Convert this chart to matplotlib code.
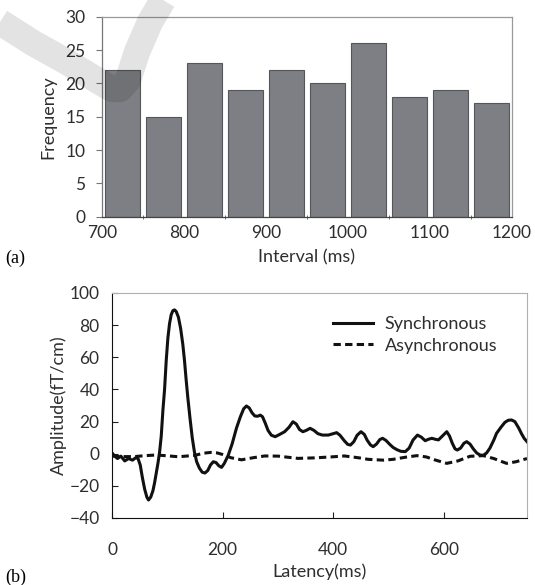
import numpy as np
import matplotlib
matplotlib.use("Agg")
import matplotlib.pyplot as plt
from matplotlib.lines import Line2D

# (a) histogram of intervals
bin_starts = [700, 750, 800, 850, 900, 950, 1000, 1050, 1100, 1150]
frequency = [22, 15, 23, 19, 22, 20, 26, 18, 19, 17]

# (b) averaged responses
sync_t = [0, 5, 10, 16, 23, 30, 37, 43, 47, 51, 55, 59, 63, 66, 70, 74, 77, 80, 83, 86,
          89, 92, 95, 98, 101, 104, 107, 110, 113, 116, 120, 124, 128, 131, 134, 137,
          141, 145, 149, 153, 158, 163, 168, 173, 178, 183, 188, 193, 198, 203, 210,
          217, 225, 232, 238, 243, 248, 253, 258, 263, 268, 272, 277, 282, 288, 295,
          303, 312, 320, 327, 333, 339, 345, 351, 358, 365, 372, 380, 391, 400, 406,
          412, 420, 426, 431, 437, 443, 450, 456, 461, 467, 472, 478, 484, 489, 495,
          502, 508, 515, 522, 530, 537, 544, 552, 559, 566, 572, 578, 584, 590, 597,
          605, 610, 615, 620, 624, 630, 636, 641, 647, 653, 659, 665, 671, 677, 683,
          690, 695, 703, 710, 716, 722, 728, 735, 740, 745, 750]
sync_v = [0.5, -1.5, -3, -1.5, -4.5, -3, -4, -2.5, -3, -7, -15, -22, -27, -28.8, -27, -23,
          -18, -12, -6, 1, 11, 27, 40, 58, 72, 81, 86.5, 89, 89.5, 88.5, 85, 78, 68, 58,
          46, 35, 22, 10, 1, -5, -9, -11.5, -12, -10.5, -7, -5, -5.5, -7.5, -8.5, -6, -1,
          6, 16, 23, 28, 29.7, 28.5, 25.5, 23.5, 23.3, 24, 23, 19, 14.5, 11.5, 10.6,
          12, 13.7, 16.5, 19.9, 18.5, 15, 13.7, 14.5, 15.8, 14.5, 12.5, 11.6, 11.6, 12.5, 13.1,
          11.5, 8, 5.8, 5.4, 7.5, 11.5, 13.7, 12, 8.5, 5.5, 4.4, 6, 8.8, 9.6, 8.3,
          5.8, 3.9, 2.5, 1.5, 1.3, 3.5, 8.5, 11.6, 10.3, 8.1, 9, 9.6, 9, 8.6, 11,
          13.7, 11, 6.5, 3, 2.3, 3.5, 6.5, 7.5, 6, 3, 0.5, -0.8, -1, 0.5, 3.5,
          8.5, 12.7, 16.5, 19.5, 20.8, 21, 20, 16, 12.5, 9.5, 7.5]

async_t = [0, 20, 40, 60, 80, 100, 120, 150, 165, 178, 190, 200, 215, 234, 255, 276, 300,
           336, 365, 396, 420, 445, 463, 490, 508, 530, 551, 568, 585, 605, 625, 647,
           671, 690, 713, 730, 750]
async_v = [-1.5, -1.8, -1.8, -1.2, -0.8, -1.3, -1.9, -1, 0.3, 0.8, 0.5, -0.5, -2.5, -3.8, -2.5,
           -1.4, -1.5, -2.9, -2.6, -2, -1.4, -2.5, -3.5, -4, -3.5, -2.2, -1.2, -2, -4, -6,
           -4.5, -1.6, -1.2, -3, -6, -5, -3]

plt.rcParams['font.family'] = ['Lato', 'DejaVu Sans']
plt.rcParams['font.size'] = 13
txt = '#2e2e2e'
tick_fs = 12.5

W, H = 535.0, 585.0
fig = plt.figure(figsize=(W / 100, H / 100), dpi=100)

# grey watermark swoosh in the corner
wx = [0, 33, 67, 100, 112, 120, 128, 137, 150, 163]
wy = [22, 43, 62, 82, 89, 89, 80, 52, 22, 0]
fig.add_artist(Line2D([x / W for x in wx], [1 - y / H for y in wy], transform=fig.transFigure,
                      color='black', alpha=0.11, lw=19, solid_capstyle='butt',
                      solid_joinstyle='round', zorder=10))

# ---------- (a) ----------
ax1 = fig.add_axes([102 / W, 1 - 216.7 / H, 410 / W, 200 / H])
centers = [b + 25 for b in bin_starts]
ax1.bar(centers, frequency, width=42, color='#7e7f84', edgecolor='#55565a', linewidth=0.8)
ax1.set_xlim(700, 1200)
ax1.set_ylim(0, 30)
ax1.set_xticks([700, 800, 900, 1000, 1100, 1200])
ax1.set_xticks([750, 850, 950, 1050, 1150], minor=True)
ax1.set_yticks([0, 5, 10, 15, 20, 25, 30])
ax1.tick_params(axis='x', which='major', length=0, pad=6, colors=txt, labelsize=tick_fs)
ax1.tick_params(axis='x', which='minor', length=3, direction='inout', color='#555555')
ax1.tick_params(axis='y', length=4, direction='out', colors=txt, pad=8, labelsize=tick_fs)
ax1.tick_params(axis='y', color='#777777')
for s in ['top', 'right']:
    ax1.spines[s].set_color('#9a9a9a')
ax1.spines['left'].set_color('#777777')
ax1.spines['bottom'].set_color('#444444')
for s in ax1.spines.values():
    s.set_linewidth(0.9)
ax1.set_ylabel('Frequency', color=txt, labelpad=6)
ax1.set_xlabel('Interval (ms)', color=txt, labelpad=6)
fig.text(5 / W, 1 - 258 / H, '(a)', family='Liberation Serif', fontsize=13, va='center')

# ---------- (b) ----------
ax2 = fig.add_axes([112 / W, 1 - 518 / H, 415 / W, 225 / H])
ax2.plot(sync_t, sync_v, color='#111111', lw=2.2, label='Synchronous',
         solid_joinstyle='round')
ax2.plot(async_t, async_v, color='#111111', lw=2.2, ls=(0, (2.4, 1.4)), label='Asynchronous')
ax2.set_xlim(0, 750)
ax2.set_ylim(-40, 100)
ax2.set_xticks([0, 200, 400, 600])
ax2.set_yticks([-40, -20, 0, 20, 40, 60, 80, 100])
ax2.tick_params(axis='both', direction='in', length=4, color='#222222', colors=txt,
                labelsize=tick_fs)
ax2.tick_params(axis='x', pad=17)
ax2.tick_params(axis='y', pad=9)
for s in ['top', 'right']:
    ax2.spines[s].set_color('#b0b0b0')
for s in ['left', 'bottom']:
    ax2.spines[s].set_color('#111111')
ax2.set_ylabel('Amplitude(fT/cm)', color=txt, labelpad=2)
ax2.set_xlabel('Latency(ms)', color=txt, labelpad=4)
ax2.legend(loc='upper left', frameon=False, handlelength=2.2, handletextpad=0.67,
           borderpad=0, borderaxespad=0, labelspacing=0.3,
           bbox_to_anchor=(0.5325, 0.897), labelcolor=txt)
fig.text(5 / W, 1 - 577 / H, '(b)', family='Liberation Serif', fontsize=13, va='center')

fig.savefig('out.png', dpi=100)
